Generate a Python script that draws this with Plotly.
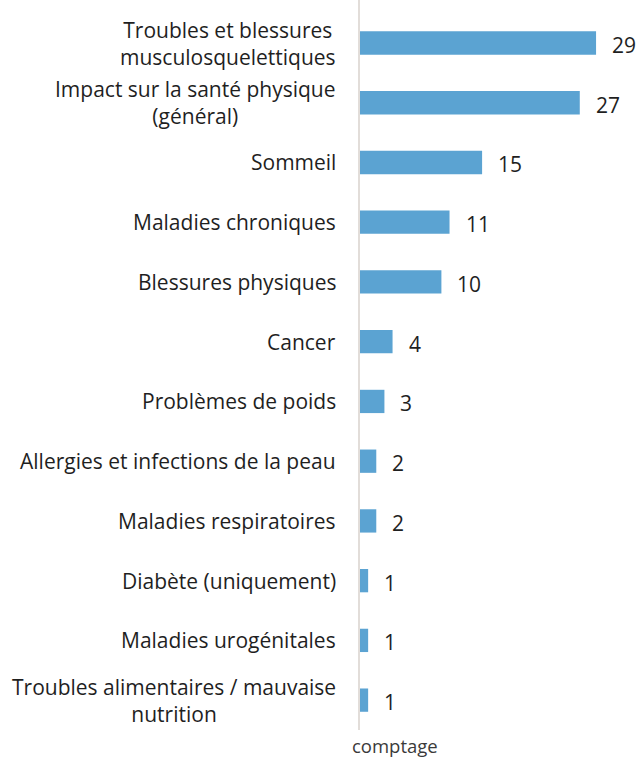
import plotly.graph_objects as go

categories = [
    "Troubles et blessures<br>musculosquelettiques",
    "Impact sur la santé physique<br>(général)",
    "Sommeil",
    "Maladies chroniques",
    "Blessures physiques",
    "Cancer",
    "Problèmes de poids",
    "Allergies et infections de la peau",
    "Maladies respiratoires",
    "Diabète (uniquement)",
    "Maladies urogénitales",
    "Troubles alimentaires / mauvaise<br>nutrition",
]
values = [29, 27, 15, 11, 10, 4, 3, 2, 2, 1, 1, 1]
x_title = "comptage"

positions = list(range(len(categories)))

W, H = 640, 758
L, R, T, B = 360, 0, 0, 28
pw, ph = W - L - R, H - T - B
FS = 21
GAP = 22

fig = go.Figure(go.Bar(
    x=values, y=positions, orientation="h",
    marker=dict(color="#5BA3D2", line=dict(width=0)),
    width=0.39, hoverinfo="skip",
))

annotations = []
for p, c, v in zip(positions, categories, values):
    annotations.append(dict(
        x=0, xref="paper", y=p, yref="y", text=c, showarrow=False,
        xanchor="right", yanchor="middle", align="center", xshift=-GAP,
        font=dict(family="Open Sans", size=FS, color="#1f1f1f"),
    ))
    annotations.append(dict(
        x=v, xref="x", y=p, yref="y", text=str(v), showarrow=False,
        xanchor="left", yanchor="middle", xshift=14, yshift=-2,
        font=dict(family="Open Sans", size=FS, color="#1f1f1f"),
    ))

annotations.append(dict(
    x=(395 - L) / pw, xref="paper", y=-(745 - (H - B)) / ph, yref="paper",
    text=x_title, showarrow=False, xanchor="center", yanchor="middle",
    font=dict(family="Open Sans", size=18.5, color="#3a3a3a"),
))

fig.update_layout(
    width=W, height=H,
    margin=dict(l=L, r=R, t=T, b=B),
    paper_bgcolor="white", plot_bgcolor="white",
    showlegend=False,
    xaxis=dict(range=[0, pw / 8.14], showgrid=False, zeroline=False,
               showticklabels=False, ticks="", showline=False, fixedrange=True),
    yaxis=dict(range=[11.5, -0.72], showgrid=False, zeroline=False,
               showticklabels=False, ticks="", showline=True,
               linecolor="#e2ddd9", linewidth=2, fixedrange=True),
    annotations=annotations,
)

fig.write_html(
    "out.html",
    config={"displayModeBar": False},
    post_script="document.body.style.margin='0';document.body.style.overflow='hidden';",
)
